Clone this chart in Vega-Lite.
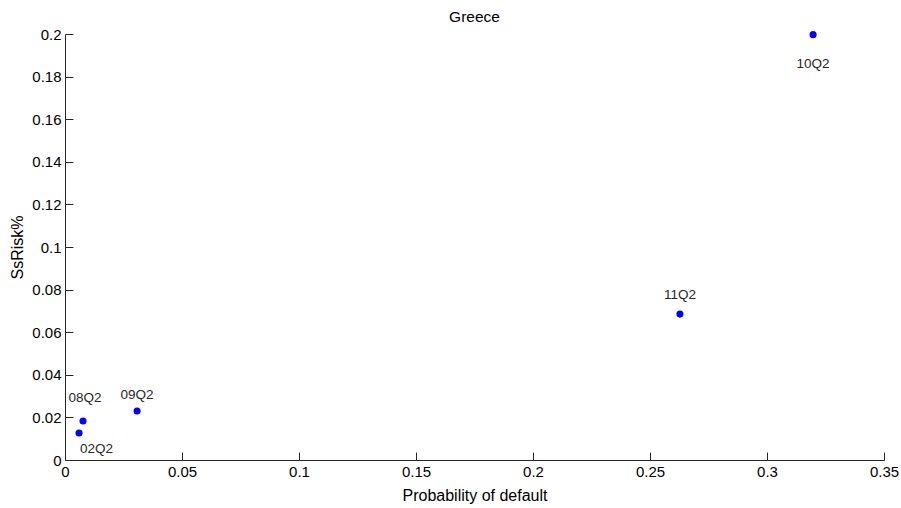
{
  "$schema": "https://vega.github.io/schema/vega-lite/v6.json",
  "autosize": "none",
  "width": 819,
  "height": 426,
  "padding": {"left": 65, "top": 34, "right": 17, "bottom": 48},
  "background": "white",
  "title": {"text": "Greece", "fontSize": 15.5, "fontWeight": "normal", "font": "Liberation Sans", "color": "#000000", "offset": 2},
  "config": {
    "view": {"stroke": null},
    "font": "Liberation Sans"
  },
  "data": {
    "values": [
      {"pd": 0.006, "risk": 0.0127, "label": "02Q2"},
      {"pd": 0.0077, "risk": 0.0183, "label": "08Q2"},
      {"pd": 0.0308, "risk": 0.023, "label": "09Q2"},
      {"pd": 0.3197, "risk": 0.1997, "label": "10Q2"},
      {"pd": 0.2628, "risk": 0.0685, "label": "11Q2"}
    ]
  },
  "encoding": {
    "x": {
      "field": "pd", "type": "quantitative",
      "scale": {"domain": [0, 0.35], "nice": false, "zero": false},
      "axis": {
        "title": "Probability of default",
        "values": [0, 0.05, 0.1, 0.15, 0.2, 0.25, 0.3, 0.35],
        "format": "~g",
        "grid": false,
        "domainColor": "#262626",
        "tickColor": "#262626",
        "tickSize": -8,
        "labelPadding": 12,
        "labelFontSize": 15,
        "labelColor": "#000000",
        "labelFlush": false,
        "titleFontSize": 16,
        "titleFontWeight": "normal",
        "titleColor": "#000000",
        "titlePadding": 8
      }
    },
    "y": {
      "field": "risk", "type": "quantitative",
      "scale": {"domain": [0, 0.2], "nice": false, "zero": false},
      "axis": {
        "title": "SsRisk%",
        "values": [0, 0.02, 0.04, 0.06, 0.08, 0.1, 0.12, 0.14, 0.16, 0.18, 0.2],
        "format": "~g",
        "grid": false,
        "domainColor": "#262626",
        "tickColor": "#262626",
        "tickSize": -8,
        "labelPadding": 12,
        "labelFontSize": 15,
        "labelColor": "#000000",
        "labelFlush": false,
        "titleFontSize": 16,
        "titleFontWeight": "normal",
        "titleColor": "#000000",
        "titlePadding": 6
      }
    }
  },
  "layer": [
    {
      "mark": {"type": "point", "filled": true, "shape": "circle", "size": 50, "color": "#0000ff", "opacity": 1}
    },
    {
      "transform": [{"filter": "datum.label == '08Q2'"}],
      "mark": {"type": "text", "fontSize": 13.5, "color": "#262626", "dy": -23, "dx": 2, "align": "center", "baseline": "middle"},
      "encoding": {"text": {"field": "label"}}
    },
    {
      "transform": [{"filter": "datum.label == '09Q2'"}],
      "mark": {"type": "text", "fontSize": 13.5, "color": "#262626", "dy": -16, "align": "center", "baseline": "middle"},
      "encoding": {"text": {"field": "label"}}
    },
    {
      "transform": [{"filter": "datum.label == '11Q2'"}],
      "mark": {"type": "text", "fontSize": 13.5, "color": "#262626", "dy": -19, "align": "center", "baseline": "middle"},
      "encoding": {"text": {"field": "label"}}
    },
    {
      "transform": [{"filter": "datum.label == '10Q2'"}],
      "mark": {"type": "text", "fontSize": 13.5, "color": "#262626", "dy": 29, "align": "center", "baseline": "middle"},
      "encoding": {"text": {"field": "label"}}
    },
    {
      "transform": [{"filter": "datum.label == '02Q2'"}],
      "mark": {"type": "text", "fontSize": 13.5, "color": "#262626", "dy": 16, "dx": 1, "align": "left", "baseline": "middle"},
      "encoding": {"text": {"field": "label"}}
    }
  ]
}
